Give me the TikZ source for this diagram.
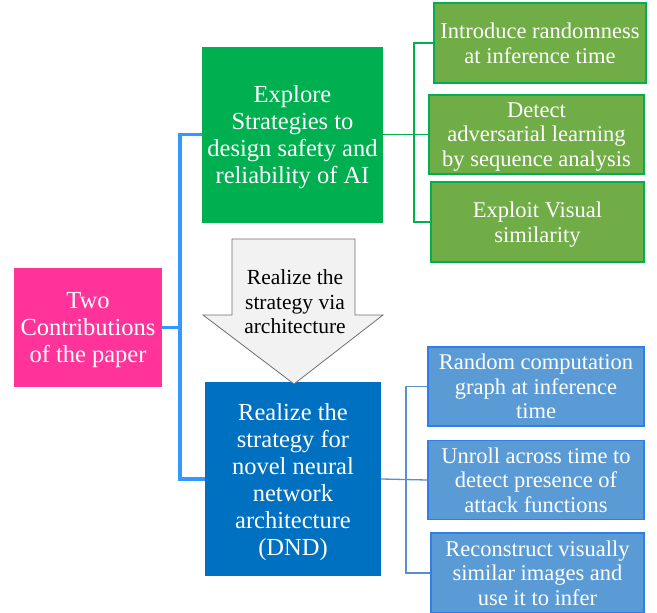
\documentclass[tikz,border=0pt]{standalone}
\usepackage{fontspec}
\setmainfont{Liberation Serif}
\usetikzlibrary{arrows.meta,positioning,calc}
\definecolor{cpink}{HTML}{FF3399}
\definecolor{cgreen}{HTML}{00B050}
\definecolor{cblue}{HTML}{0070C0}
\definecolor{csubgreen}{HTML}{70AD47}
\definecolor{csubblue}{HTML}{5B9BD5}
\definecolor{csubblueedge}{HTML}{2F7EEA}
\definecolor{clink}{HTML}{3399FF}
\definecolor{cbluelink}{HTML}{5B8FCC}
\definecolor{carrowfill}{HTML}{F2F2F2}
\definecolor{carrowedge}{HTML}{6F6F6F}
\begin{document}
\begin{tikzpicture}[x=1pt, y=-1pt,
  big/.style={text=white, align=center, inner sep=0pt, text depth=0pt, font=\fontsize{24.5}{27}\selectfont},
  sub/.style={draw, line width=1.2pt, text=white, align=center, inner sep=0pt, text depth=0pt, font=\fontsize{22.5}{24.5}\selectfont},
  gsub/.style={sub, fill=csubgreen, draw=cgreen, minimum height=80pt},
  bsub/.style={sub, fill=csubblue, draw=csubblueedge, minimum height=79pt},
  mainlink/.style={clink, line width=3.2pt},
  glink/.style={cgreen, line width=1.3pt},
  blink/.style={cbluelink, line width=1.3pt}]
  \useasboundingbox (0,0) rectangle (657,613);
  % ---------- main boxes ----------
  \node[big, fill=cpink, minimum width=148pt, minimum height=119pt] (paper) at (88,327.5) {Two\\Contributions\\of the paper};
  \node[big, fill=cgreen, minimum width=181pt, minimum height=176pt] (explore) at (292.5,134.5) {Explore\\Strategies to\\design safety and\\reliability of AI};
  \node[big, fill=cblue, minimum width=176pt, minimum height=194pt] (dnd) at (293,479) {Realize the\\strategy for\\novel neural\\network\\architecture\\(DND)};
  % ---------- arrow between ----------
  \draw[carrowedge, fill=carrowfill, line width=0.8pt]
    (232,239) -- (355,239) -- (355,315) -- (383,315) -- (294,384) -- (203,315) -- (232,315) -- cycle;
  \node[align=center, inner sep=0pt, text depth=0pt, font=\fontsize{21.5}{24.5}\selectfont] (via) at (295,302) {Realize the\\strategy via\\architecture};
  % ---------- sub boxes ----------
  \node[gsub, minimum width=212pt] (g1) at (540,43) {Introduce randomness\\at inference time};
  \node[gsub, minimum width=215pt, minimum height=79pt] (g2) at (536.5,134.5) {Detect\\adversarial learning\\by sequence analysis};
  \node[gsub, minimum width=213pt] (g3) at (537.5,222) {Exploit Visual\\similarity};
  \node[bsub, minimum width=216pt] (b1) at (536,386.5) {Random computation\\graph at inference\\time};
  \node[bsub, minimum width=216pt] (b2) at (536,480) {Unroll across time to\\detect presence of\\attack functions};
  \node[bsub, minimum width=213pt, minimum height=80pt] (b3) at (537.5,573) {Reconstruct visually\\similar images and\\use it to infer};
  % ---------- links ----------
  \coordinate (pj) at (180,327.5);
  \coordinate (gj) at (414,134.5);
  \coordinate (bj) at (406,480);
  \draw[mainlink] (paper.east) -- (pj);
  \draw[mainlink] (explore.west) -| (pj) |- (dnd.west);
  \draw[glink] (explore.east) -- (g2.west);
  \draw[glink] (g1.west) -| (gj) |- (g3.west);
  \draw[blink] (dnd.east) -- (b2.west);
  \draw[blink] (b1.west) -| (bj) |- (b3.west);
\end{tikzpicture}
\end{document}
